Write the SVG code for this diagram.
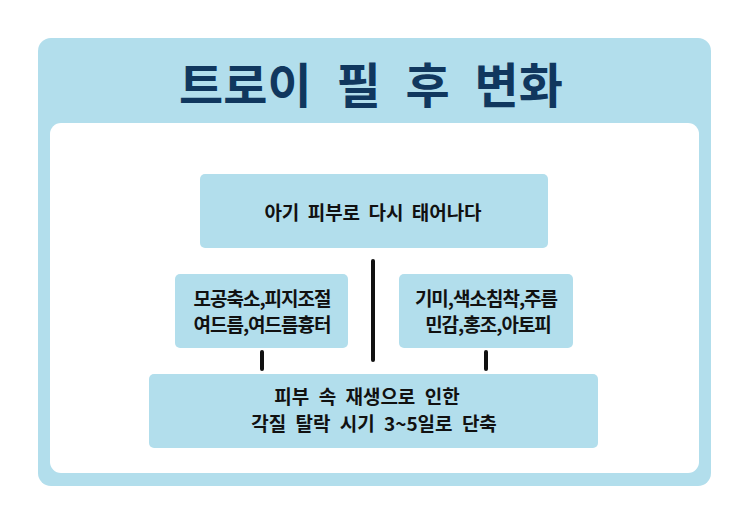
<svg xmlns="http://www.w3.org/2000/svg" width="740" height="523" viewBox="0 0 740 523">
<style>
.frame{fill:#b2deec}
.node{fill:#b2deec}
.t{font-family:"Noto Sans CJK KR","Noto Sans",sans-serif;font-size:19px;font-weight:600;fill:#111;text-anchor:middle}
.title{font-family:"Noto Sans CJK KR","Noto Sans",sans-serif;font-size:48px;font-weight:700;fill:#10375e;text-anchor:middle}
.conn{stroke:#111;stroke-width:4;stroke-linecap:round}
</style>
<rect width="740" height="523" fill="#ffffff"/>
<g id="frame">
<rect class="frame" x="38" y="38" width="673" height="448" rx="13"/>
<rect x="50" y="123" width="649" height="350" rx="11" fill="#ffffff"/>
<text class="title" x="371" y="103" word-spacing="14">트로이 필 후 변화</text>
</g>
<g id="connectors">
<line class="conn" x1="373" y1="261" x2="373" y2="360"/>
<line class="conn" x1="262" y1="352" x2="262" y2="369"/>
<line class="conn" x1="486" y1="352" x2="486" y2="369"/>
</g>
<g id="node-top">
<rect class="node" x="200" y="174" width="348" height="74" rx="5"/>
<text class="t" x="373" y="220" word-spacing="4">아기 피부로 다시 태어나다</text>
</g>
<g id="node-left">
<rect class="node" x="175" y="274" width="173" height="74" rx="5"/>
<text class="t" x="262" y="306" letter-spacing="-1">모공축소,피지조절</text>
<text class="t" x="262" y="332" letter-spacing="-1">여드름,여드름흉터</text>
</g>
<g id="node-right">
<rect class="node" x="399" y="274" width="174" height="74" rx="5"/>
<text class="t" x="486" y="306" letter-spacing="-1">기미,색소침착,주름</text>
<text class="t" x="488" y="332" letter-spacing="-1">민감,홍조,아토피</text>
</g>
<g id="node-bottom">
<rect class="node" x="149" y="374" width="449" height="74" rx="5"/>
<text class="t" x="367" y="404" word-spacing="5">피부 속 재생으로 인한</text>
<text class="t" x="374" y="431" word-spacing="5">각질 탈락 시기 3~5일로 단축</text>
</g>
</svg>
